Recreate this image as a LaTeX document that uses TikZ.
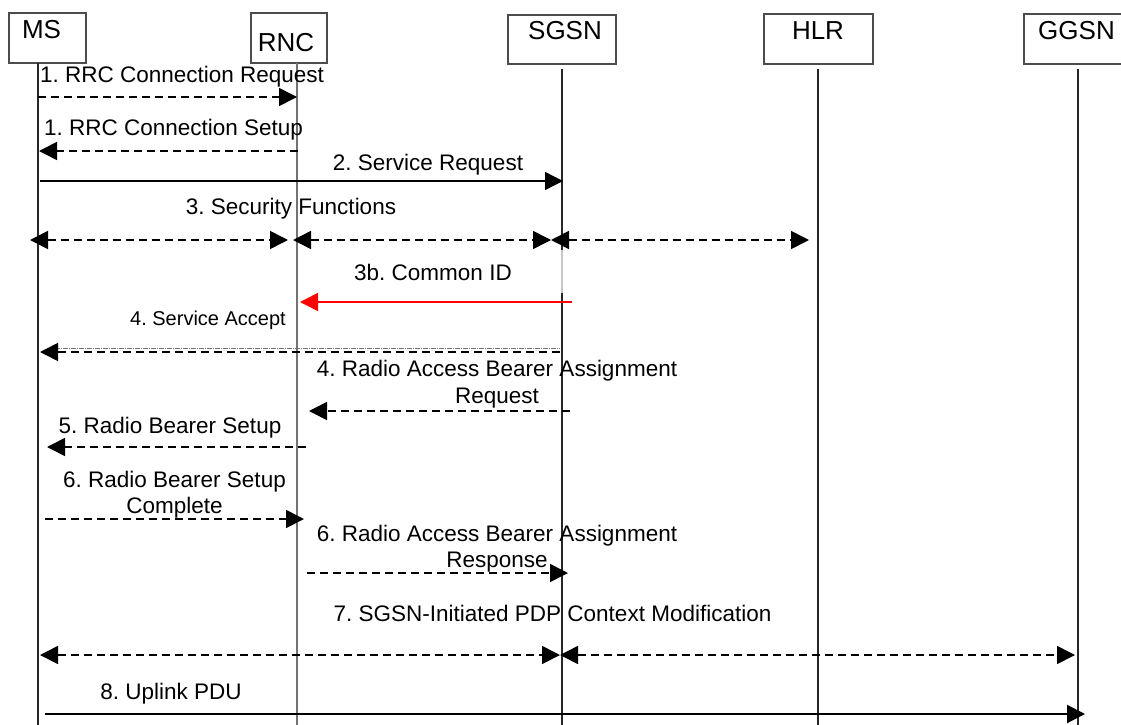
\documentclass[tikz,border=0pt]{standalone}
\usepackage{fontspec}
\setmainfont{Liberation Sans}
\usetikzlibrary{arrows.meta}
\frenchspacing
\tikzset{
  actor/.style={draw=black!70, line width=1.1pt, rectangle, inner sep=0pt},
  actorlbl/.style={font=\fontsize{26}{30}\selectfont, anchor=base, inner sep=0pt},
  life/.style={line width=1.1pt, draw=black!85},
  lbl/.style={font=\fontsize{22.5}{26}\selectfont, anchor=base, inner sep=0pt},
  slbl/.style={font=\fontsize{20}{24}\selectfont, anchor=base, inner sep=0pt},
  >={Triangle[length=18pt,width=18pt]},
  dmsg/.style={line width=1.6pt, dash pattern=on 8pt off 5pt},
  smsg/.style={line width=1.3pt},
  rmsg/.style={line width=1.6pt, draw=red},
}
\begin{document}
\begin{tikzpicture}[x=1pt, y=-1pt]
\useasboundingbox (0,0) rectangle (1121,725);
\clip (0,0) rectangle (1121,725);

% entity boxes
\node[actor, minimum width=77pt, minimum height=50pt] (ms) at (47.5,38) {};
\node[actor, minimum width=76pt, minimum height=50pt] (rnc) at (289,38) {};
\node[actor, minimum width=108pt, minimum height=49pt] (sgsn) at (562,39.5) {};
\node[actor, minimum width=109pt, minimum height=50pt] (hlr) at (818.5,39) {};
\node[actor, minimum width=108pt, minimum height=50pt] (ggsn) at (1078,39) {};

\node[actorlbl] (msl) at (41.5,39) {MS};
\node[actorlbl] (rncl) at (286,52) {RNC};
\node[actorlbl] (sgsnl) at (565,40) {SGSN};
\node[actorlbl] (hlrl) at (818,40) {HLR};
\node[actorlbl, anchor=base west] (ggsnl) at (1038,40) {GGSN};

% lifelines
\coordinate (msT) at (38,63);    \coordinate (msB) at (38,725);
\coordinate (rncT) at (297,63);  \coordinate (rncB) at (297,725);
\coordinate (sgsnT) at (562,69); \coordinate (sgsnB) at (562,725);
\coordinate (hlrT) at (818,69);  \coordinate (hlrB) at (818,725);
\coordinate (ggsnT) at (1078,69);\coordinate (ggsnB) at (1078,725);

\draw[life] (msT) -- (msB);
\draw[life, draw=black!55, line width=1.3pt] (rncT) -- (rncB);
\draw[life] (sgsnT) -- (sgsnB);
\draw[line width=1.3pt, draw=black!22] (sgsnT |- 0,250) -- (sgsnT |- 0,293);
\draw[life] (hlrT) -- (hlrB);
\draw[life] (ggsnT) -- (ggsnB);

% message labels
\node[lbl] (l1) at (182,82) {1. RRC Connection Request};
\node[lbl] (l2) at (173.5,135) {1. RRC Connection Setup};
\node[lbl] (l3) at (428,170) {2. Service Request};
\node[lbl] (l4) at (291,214) {3. Security Functions};
\node[lbl] (l5) at (433,280) {3b. Common ID};
\node[slbl] (l6) at (208,325) {4. Service Accept};
\node[lbl] (l7a) at (497,376) {4. Radio Access Bearer Assignment};
\node[lbl] (l7b) at (497,403) {Request};
\node[lbl] (l8) at (170,433) {5. Radio Bearer Setup};
\node[lbl] (l9a) at (174.5,487) {6. Radio Bearer Setup};
\node[lbl] (l9b) at (174.5,513) {Complete};
\node[lbl] (l10a) at (497,541) {6. Radio Access Bearer Assignment};
\node[lbl] (l10b) at (497,567) {Response};
\node[lbl] (l11) at (552.5,621) {7. SGSN-Initiated PDP Context Modification};
\node[lbl] (l12) at (171,699) {8. Uplink PDU};

% messages
\draw[dmsg, ->] (msT |- 0,97) -- (rncT |- 0,97);
\draw[dmsg, ->] ([xshift=1pt]rncT |- 0,151) -- ([xshift=1pt]msT |- 0,151);
\draw[smsg, ->] ([xshift=2pt]msT |- 0,181) -- ([xshift=1pt]sgsnT |- 0,181);

\draw[dmsg, <->] ([xshift=-8pt]msT |- 0,240) -- ([xshift=-9pt]rncT |- 0,240);
\draw[dmsg, <->] ([xshift=-4pt]rncT |- 0,240) -- ([xshift=-11pt]sgsnT |- 0,240);
\draw[dmsg, <->] ([xshift=-11pt]sgsnT |- 0,240) -- ([xshift=-9pt]hlrT |- 0,240);

\draw[rmsg, ->] ([xshift=10pt]sgsnT |- 0,302) -- ([xshift=3pt]rncT |- 0,302);

\draw[line width=0.6pt, draw=black!55, dash pattern=on 5pt off 1pt on 1pt off 1pt] ([xshift=17pt]msT |- 0,348) -- ([xshift=-2pt]sgsnT |- 0,348);
\draw[dmsg, ->] ([xshift=-2pt]sgsnT |- 0,352) -- ([xshift=2pt]msT |- 0,352);

\draw[dmsg, ->] ([xshift=8pt]sgsnT |- 0,411) -- ([xshift=12pt]rncT |- 0,411);
\draw[dmsg, ->] ([xshift=9pt]rncT |- 0,447) -- ([xshift=9pt]msT |- 0,447);
\draw[dmsg, ->] ([xshift=7pt]msT |- 0,519) -- ([xshift=7pt]rncT |- 0,519);
\draw[dmsg, ->] ([xshift=10pt]rncT |- 0,573) -- ([xshift=6pt]sgsnT |- 0,573);

\draw[dmsg, <->] ([xshift=2pt]msT |- 0,655) -- ([xshift=-2pt]sgsnT |- 0,655);
\draw[dmsg, <->] ([xshift=-2pt]sgsnT |- 0,655) -- ([xshift=-3pt]ggsnT |- 0,655);

\draw[line width=2pt, ->] ([xshift=7pt]msT |- 0,714) -- ([xshift=7pt]ggsnT |- 0,714);
\end{tikzpicture}
\end{document}
